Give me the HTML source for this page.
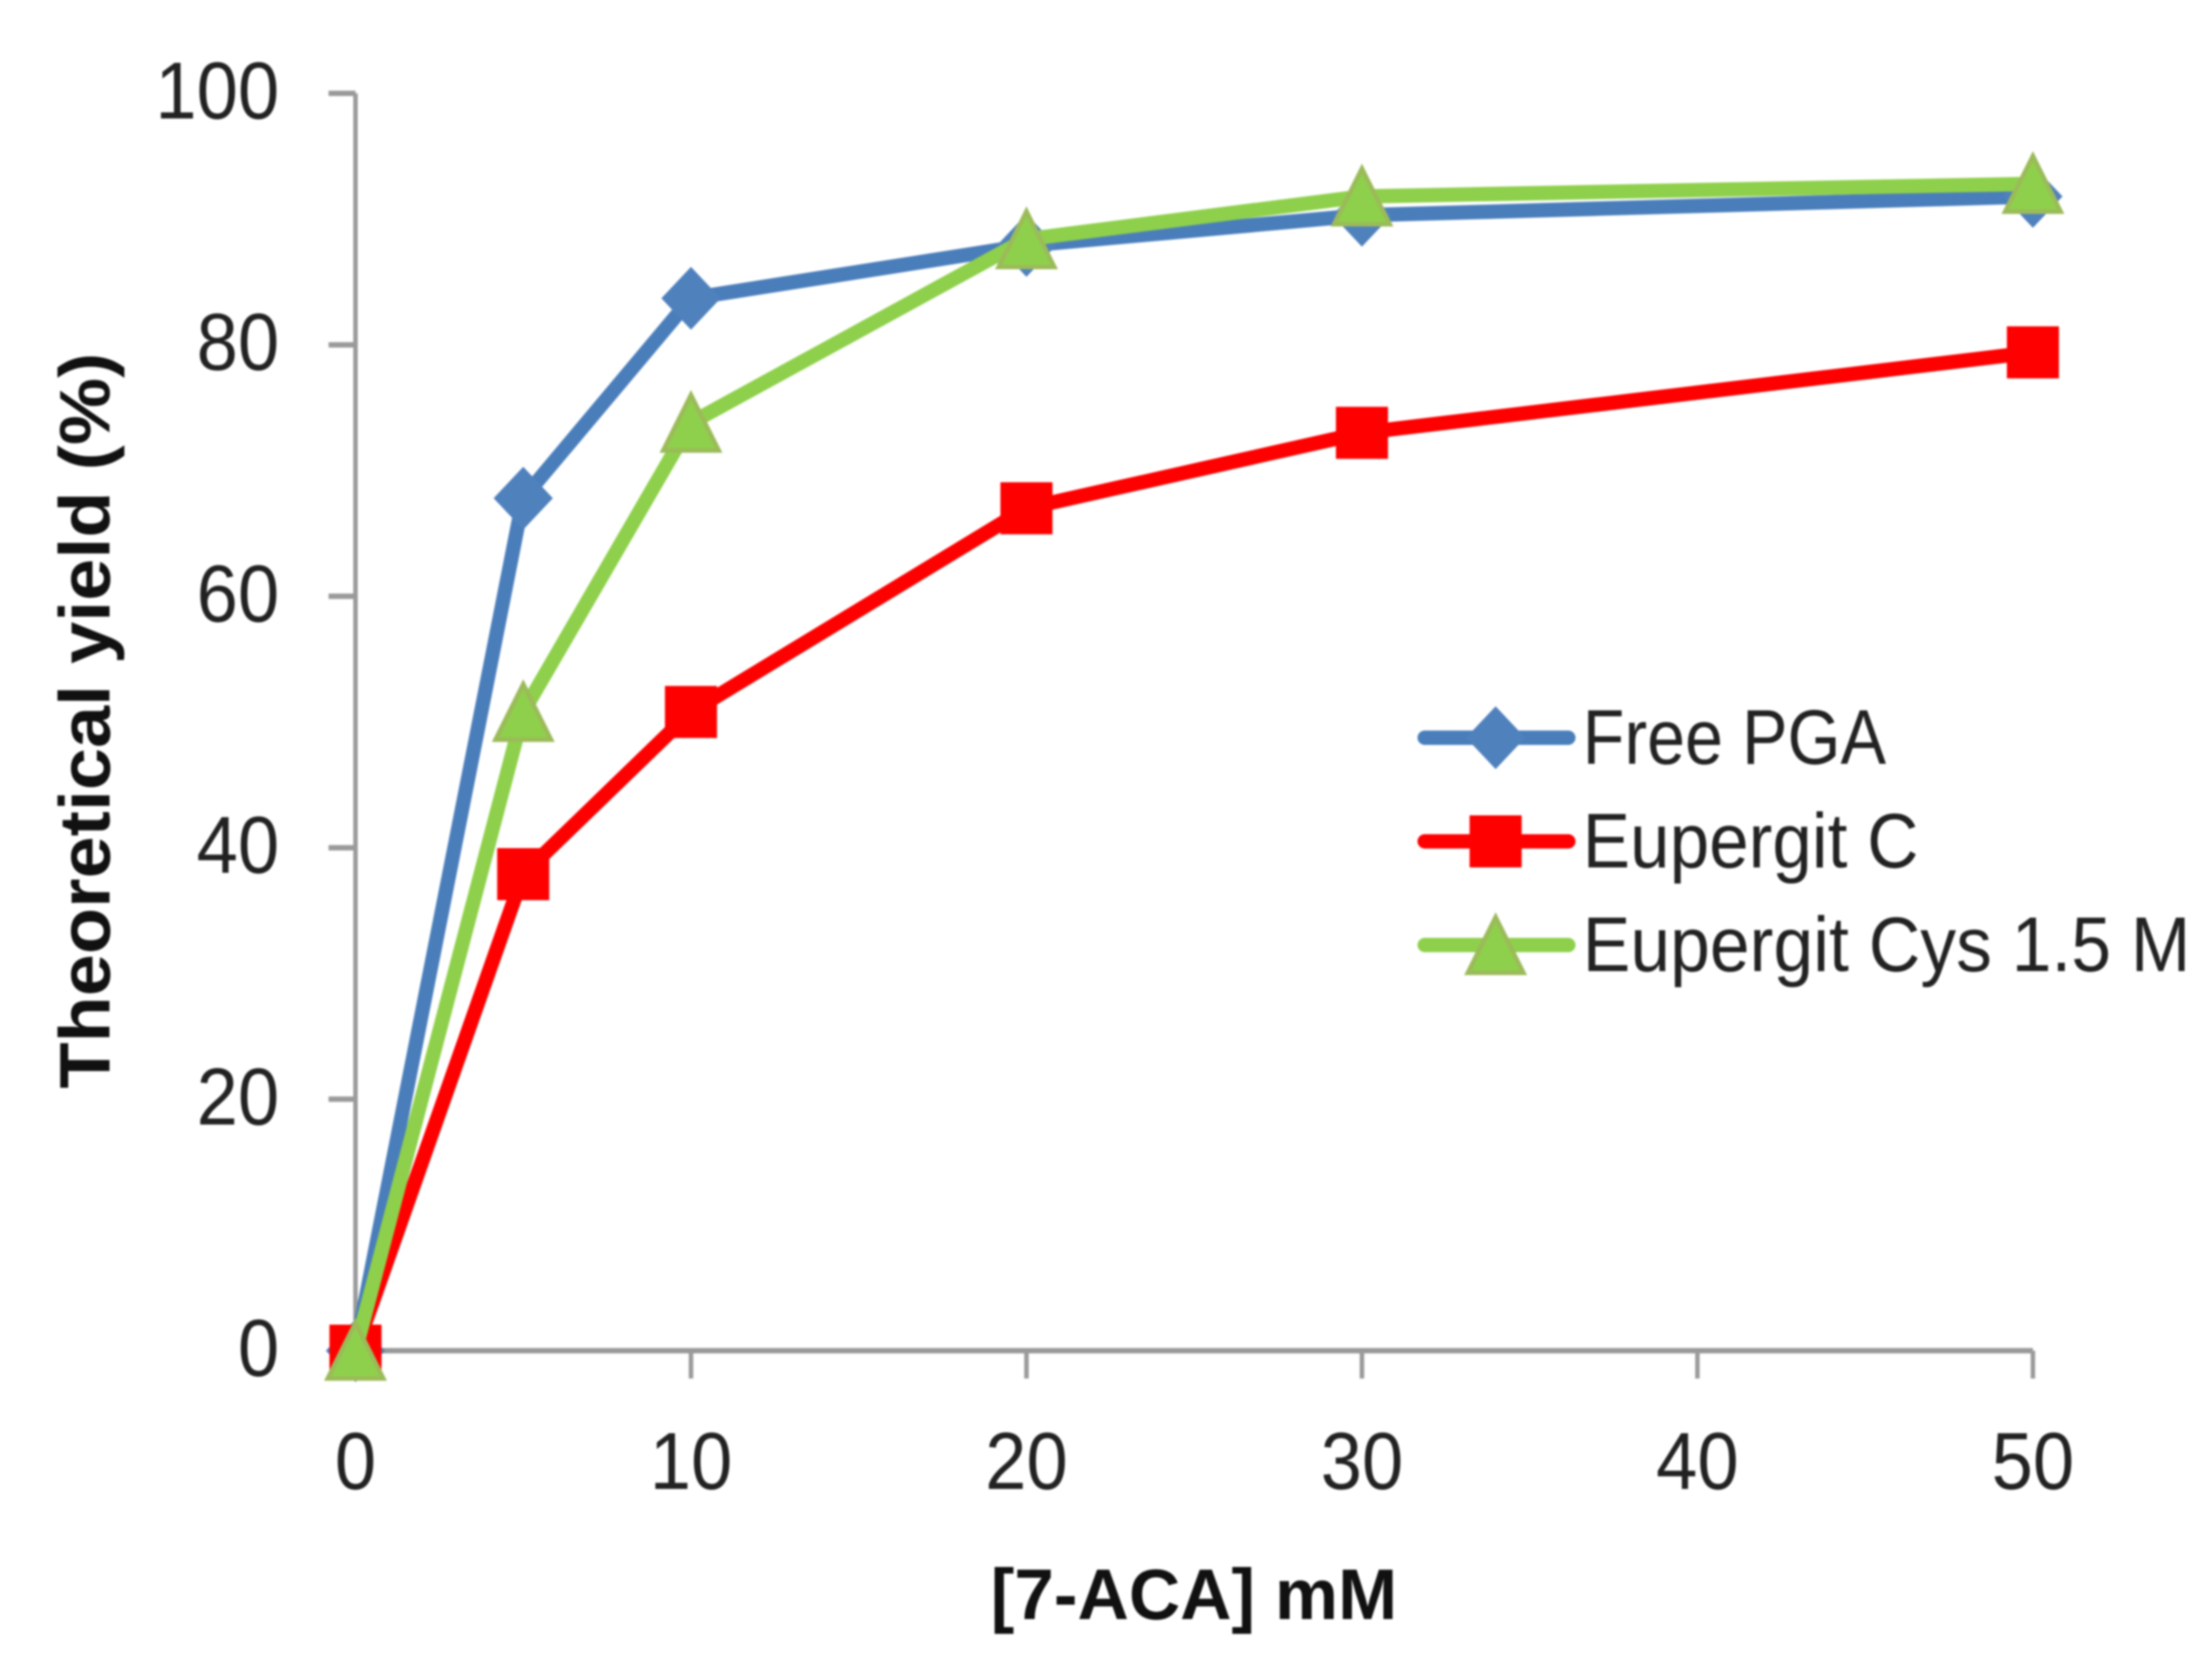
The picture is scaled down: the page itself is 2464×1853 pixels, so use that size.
<!DOCTYPE html>
<html lang="en">
<head>
<meta charset="utf-8">
<title>Theoretical yield vs 7-ACA concentration</title>
<style>
html,body{margin:0;padding:0;background:#fff;}
#chart{display:block;width:2464px;height:1853px;filter:blur(1.1px);}
text{font-family:"Liberation Sans",sans-serif;}
.tick{font-size:90px;fill:#222;}
.title{font-size:80px;font-weight:bold;fill:#111;}
.leg{font-size:86px;fill:#222;}
</style>
</head>
<body>
<svg id="chart" xmlns="http://www.w3.org/2000/svg" width="2464" height="1853" viewBox="0 0 2464 1853">
  <rect x="0" y="0" width="2464" height="1853" fill="#fff"/>
  <g id="axes"></g>
  <g id="series"></g>
  <text class="title" transform="translate(122,803) rotate(-90)" text-anchor="middle" textLength="820" lengthAdjust="spacingAndGlyphs">Theoretical yield (%)</text>
  <text class="title" x="1330" y="1804" text-anchor="middle" textLength="453" lengthAdjust="spacingAndGlyphs">[7-ACA] mM</text>
  <g id="legend"></g>
</svg>
<script>
const xValues = [0, 5, 10, 20, 30, 50];
const freePga = [0, 67.8, 83.7, 87.9, 90.3, 91.8];
const eupergitC = [0, 37.9, 50.8, 67, 73, 79.4];
const eupergitCys = [0, 50.8, 73.8, 88.4, 91.8, 92.8];
const xTickValues = [0, 10, 20, 30, 40, 50];
const yTickValues = [0, 20, 40, 60, 80, 100];
const seriesNames = ["Free PGA", "Eupergit C", "Eupergit Cys 1.5 M"];

const NS = "http://www.w3.org/2000/svg";
const X0 = 396, XPX = 37.37, Y0 = 1505, YPX = 14.01;
function sx(v){ return X0 + v * XPX; }
function sy(v){ return Y0 - v * YPX; }
function make(parent, tag, attrs, text){
  const el = document.createElementNS(NS, tag);
  for (const k in attrs) el.setAttribute(k, attrs[k]);
  if (text !== undefined) el.textContent = text;
  parent.appendChild(el);
  return el;
}
const AXIS = "#9a9a9a";
const axes = document.getElementById("axes");

const yLine = make(axes, "line", {x1:sx(0), y1:sy(100), x2:sx(0), y2:sy(0), stroke:AXIS, "stroke-width":5});


const xLine = make(axes, "line", {x1:sx(0), y1:sy(0), x2:sx(50), y2:sy(0), stroke:AXIS, "stroke-width":6});



yTickValues.forEach(function(v){
  const t = make(axes, "line", {x1:sx(0)-30, y1:sy(v), x2:sx(0), y2:sy(v), stroke:AXIS, "stroke-width":6});
  
  
  const s = String(v);
  const l = make(axes, "text", {"class":"tick", x:311, y:sy(v)+28, "text-anchor":"end", textLength:s.length*46, lengthAdjust:"spacingAndGlyphs"}, s);
  
  
});
xTickValues.forEach(function(v){
  const t = make(axes, "line", {x1:sx(v), y1:sy(0), x2:sx(v), y2:sy(0)+31, stroke:AXIS, "stroke-width":5});
  
  
  const s = String(v);
  const l = make(axes, "text", {"class":"tick", x:sx(v), y:1659, "text-anchor":"middle", textLength:s.length*46, lengthAdjust:"spacingAndGlyphs"}, s);
  
  
});

function marker(parent, kind, cx, cy){
  let m;
  if (kind === "diamond") {
    m = make(parent, "polygon", {points:[cx,cy-35,cx+33,cy,cx,cy+35,cx-33,cy].join(","), fill:"#4f81bd"});
  } else if (kind === "square") {
    m = make(parent, "rect", {x:cx-29, y:cy-29, width:58, height:58, fill:"#ff0000"});
  } else {
    m = make(parent, "polygon", {points:[cx,cy-31,cx+31,cy+31,cx-31,cy+31].join(","), fill:"#8ed04b", stroke:"#9bbb59", "stroke-width":5});
  }
  return m;
}

const seriesData = [freePga, eupergitC, eupergitCys];
const seriesColors = ["#4a7ebb", "#ff0000", "#8ed04b"];
const seriesKinds = ["diamond", "square", "triangle"];
const seriesKeys = ["free-pga", "eupergit-c", "eupergit-cys"];
const seriesGroup = document.getElementById("series");

seriesData.forEach(function(vals, i){
  const g = make(seriesGroup, "g", {});
  
  
  const pts = vals.map(function(v, j){ return sx(xValues[j]) + "," + sy(v); }).join(" ");
  const line = make(g, "polyline", {points:pts, fill:"none", stroke:seriesColors[i], "stroke-width":16, "stroke-linejoin":"round", "stroke-linecap":"round"});
  
  
  vals.forEach(function(v, j){
    const m = marker(g, seriesKinds[i], sx(xValues[j]), sy(v));
    
    
  });
});

const legend = document.getElementById("legend");
const legendWidths = [338, 374, 677];
seriesNames.forEach(function(name, i){
  const cy = 822 + i * 115.5;
  const g = make(legend, "g", {});
  
  
  const ln = make(g, "line", {x1:1587, y1:cy, x2:1747, y2:cy, stroke:seriesColors[i], "stroke-width":16, "stroke-linecap":"round"});
  
  
  const m = marker(g, seriesKinds[i], 1666, cy);
  
  
  const t = make(g, "text", {"class":"leg", x:1763, y:cy+29, textLength:legendWidths[i], lengthAdjust:"spacingAndGlyphs"}, name);
  
  
});
</script>
</body>
</html>
